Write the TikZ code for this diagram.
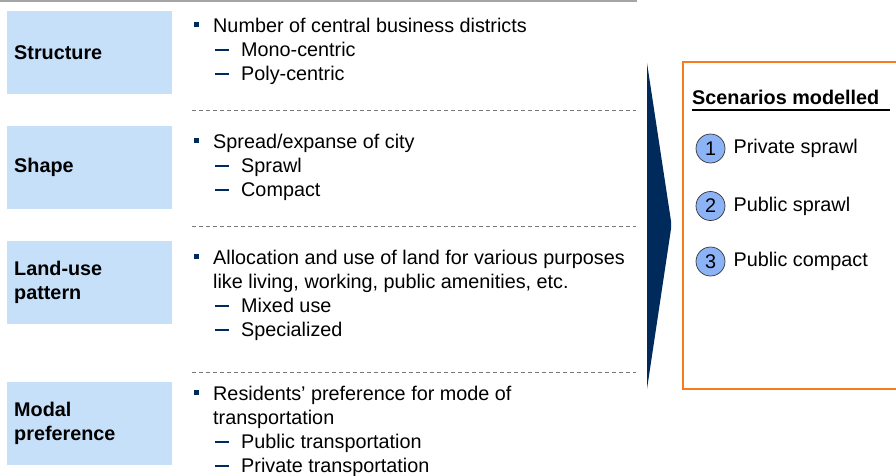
\documentclass[tikz,border=0pt]{standalone}
\usepackage{fontspec}
\setmainfont{Liberation Sans}
\usetikzlibrary{positioning}
\definecolor{navyDark}{RGB}{0,42,92}
\definecolor{paleBlue}{RGB}{198,224,250}
\definecolor{circleBlue}{RGB}{141,179,247}
\definecolor{frameOrange}{RGB}{245,124,32}
\definecolor{ruleGray}{RGB}{165,165,165}
\definecolor{dashGray}{RGB}{120,120,120}
\newcommand{\diagfont}{\fontsize{19.8pt}{24pt}\selectfont}
\newcommand{\bulsq}{\makebox[19pt][l]{\textcolor{navyDark}{\rule[5pt]{5pt}{5pt}}}}
\newcommand{\subdash}{\hspace*{19pt}\makebox[28pt][l]{\hspace{2pt}\textcolor{navyDark}{\rule[5pt]{14pt}{1.8pt}}}}
\newcommand{\contline}{\hspace*{19pt}}
\tikzset{
  dim box/.style={fill=paleBlue,minimum width=165pt,minimum height=83pt,text width=151pt,inner xsep=7pt,inner ysep=0pt,align=left,font=\diagfont\bfseries,anchor=north west},
  bullet text/.style={anchor=base west,align=left,inner sep=0pt,font=\diagfont},
  split line/.style={draw=dashGray,dash pattern=on 4pt off 3pt,line width=0.8pt},
  scenario num/.style={circle,draw=black!80,fill=circleBlue,minimum size=29pt,inner sep=0pt,line width=0.7pt,font=\diagfont},
  scenario text/.style={inner sep=0pt,font=\diagfont}
}
\begin{document}
\begin{tikzpicture}[x=1pt,y=-1pt]
  \useasboundingbox (0,0) rectangle (896,475);
  % top rule
  \draw[ruleGray,line width=1.5pt] (0,1) -- (637,1);
  % dimension boxes
  \node[dim box] (structure) at (7,11) {Structure};
  \node[dim box] (shape) at (7,126) {Shape};
  \node[dim box] (landuse) at (7,241) {Land-use\\pattern};
  \node[dim box] (modal) at (7,382) {Modal\\preference};
  % descriptions (base = last line)
  \node[bullet text] (structuretxt) at (194,80) {\bulsq Number of central business districts\\ \subdash Mono-centric\\ \subdash Poly-centric};
  \node[bullet text] (shapetxt) at (194,196) {\bulsq Spread/expanse of city\\ \subdash Sprawl\\ \subdash Compact};
  \node[bullet text] (landusetxt) at (194,336) {\bulsq Allocation and use of land for various purposes\\ \contline like living, working, public amenities, etc.\\ \subdash Mixed use\\ \subdash Specialized};
  \node[bullet text] (modaltxt) at (194,472) {\bulsq Residents’ preference for mode of\\ \contline transportation\\ \subdash Public transportation\\ \subdash Private transportation};
  % separators
  \draw[split line] (192,110) -- (636,110);
  \draw[split line] (192,226) -- (636,226);
  \draw[split line] (192,372) -- (636,372);
  % chevron
  \fill[navyDark] (647,63) -- (671,221) -- (671,229) -- (647,389) -- cycle;
  % scenarios panel
  \draw[frameOrange,line width=2pt] (683,62) rectangle (910,389);
  \node[anchor=base west,inner sep=0pt,font=\diagfont\bfseries] (scentitle) at (692,104) {Scenarios modelled};
  \draw[black,line width=1.4pt] (692,110) -- (890,110);
  \node[scenario num] (sc1) at (710.5,148.5) {1};
  \node[scenario num] (sc2) at (710.5,206) {2};
  \node[scenario num] (sc3) at (710.5,261.5) {3};
  \node[scenario text,right=8pt of sc1] (sc1txt) {Private sprawl};
  \node[scenario text,right=8pt of sc2] (sc2txt) {Public sprawl};
  \node[scenario text,right=8pt of sc3] (sc3txt) {Public compact};
\end{tikzpicture}
\end{document}
